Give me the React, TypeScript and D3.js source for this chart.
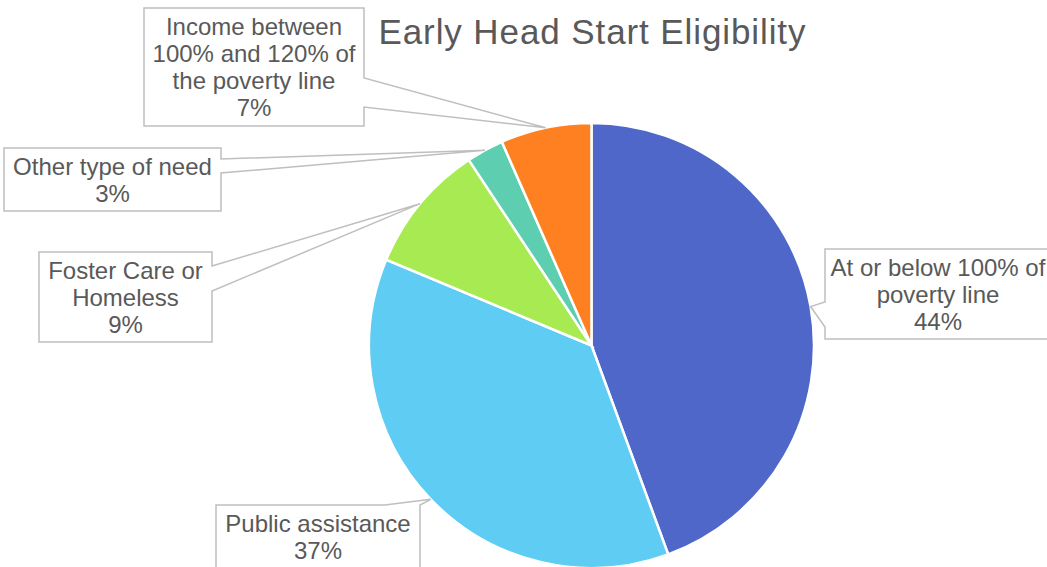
import React from 'react';
import * as d3 from 'd3';

// chart data
const categories = [
  'At or below 100% of poverty line',
  'Public assistance',
  'Foster Care or Homeless',
  'Other type of need',
  'Income between 100% and 120% of the poverty line',
];
const shares = [44.4, 36.9, 9.4, 2.7, 6.6];
const sliceColors = ['#4E67C8', '#5ECCF3', '#A7EA52', '#5DCEAF', '#FF8021'];

// label text broken into lines the way the callouts show them
const labelLines = [
  ['At or below 100% of', 'poverty line'],
  ['Public assistance'],
  ['Foster Care or', 'Homeless'],
  ['Other type of need'],
  ['Income between', '100% and 120% of', 'the poverty line'],
];

const W = 1047;
const H = 567;
const CX = 591.5;
const CY = 345.5;
const R = 222.5;
const LINE = 27;
const TEXT = '#595959';
const BORDER = '#BFBFBF';

// callout boxes: x, y, w, h, and which side the pointer leaves from with its two base points
type Callout = {x: number; y: number; w: number; h: number; side: 'left' | 'right' | 'top'; a: number; b: number};
const callouts: Callout[] = [
  {x: 825, y: 249, w: 226, h: 90, side: 'left', a: 302, b: 327},
  {x: 216, y: 505, w: 204, h: 70, side: 'top', a: 385, b: 420},
  {x: 39, y: 252, w: 173, h: 90, side: 'right', a: 266, b: 291},
  {x: 4, y: 148, w: 217, h: 63, side: 'right', a: 159, b: 173},
  {x: 144, y: 8, w: 220, h: 118, side: 'right', a: 78, b: 107},
];

function calloutPath(c: Callout, tip: [number, number]) {
  const {x, y, w, h} = c;
  const p = d3.path();
  p.moveTo(x, y);
  if (c.side === 'top') {
    p.lineTo(c.a, y);
    p.lineTo(tip[0], tip[1]);
    p.lineTo(c.b, y);
  }
  p.lineTo(x + w, y);
  if (c.side === 'right') {
    p.lineTo(x + w, c.a);
    p.lineTo(tip[0], tip[1]);
    p.lineTo(x + w, c.b);
  }
  p.lineTo(x + w, y + h);
  p.lineTo(x, y + h);
  if (c.side === 'left') {
    p.lineTo(x, c.b);
    p.lineTo(tip[0], tip[1]);
    p.lineTo(x, c.a);
  }
  p.closePath();
  return p.toString();
}

export default function App() {
  const pie = d3.pie<number>().value(d => d).sort(null);
  const arcs = pie(shares);
  const total = d3.sum(shares);
  const arc = d3.arc<d3.PieArcDatum<number>>().innerRadius(0).outerRadius(R);
  const edge = d3.arc<d3.PieArcDatum<number>>().innerRadius(R).outerRadius(R);
  const fmt = d3.format('.0%');

  return (
    <svg
      width={W}
      height={H}
      style={{position: 'absolute', left: 0, top: 0, background: '#fff'}}
      fontFamily="'Liberation Sans', Arial, sans-serif"
    >
      <text x={592} y={44} textAnchor="middle" fontSize={35} fill={TEXT} textLength={427} lengthAdjust="spacing">
        Early Head Start Eligibility
      </text>
      <g transform={`translate(${CX},${CY})`}>
        {arcs.map((d, i) => (
          <path key={categories[i]} d={arc(d) || ''} fill={sliceColors[i]} stroke="#fff" strokeWidth={2.5} />
        ))}
      </g>
      {arcs.map((d, i) => {
        const c = callouts[i];
        const [ex, ey] = edge.centroid(d);
        const tip: [number, number] = [CX + ex, CY + ey];
        const lines = [...labelLines[i], fmt(d.value / total)];
        const mid = c.x + c.w / 2;
        return (
          <g key={categories[i]}>
            <path d={calloutPath(c, tip)} fill="#fff" stroke={BORDER} strokeWidth={1.5} />
            <text textAnchor="middle" fontSize={24} fill={TEXT}>
              {lines.map((t, j) => (
                <tspan key={j} x={mid} y={c.y + LINE * (j + 1)}>
                  {t}
                </tspan>
              ))}
            </text>
          </g>
        );
      })}
    </svg>
  );
}
